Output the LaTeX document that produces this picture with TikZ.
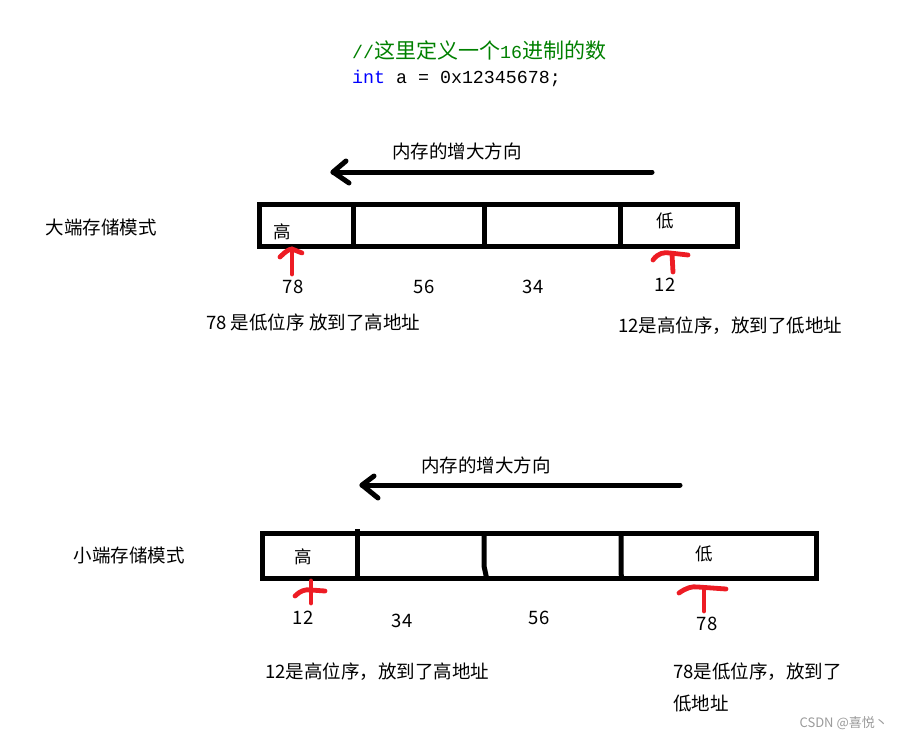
\documentclass[tikz,border=0pt]{standalone}
\usepackage{fontspec}
\setmainfont{Noto Sans CJK SC}
\newfontfamily\codefont{Liberation Mono}
\definecolor{pred}{HTML}{ED1C24}
\definecolor{cgreen}{HTML}{008000}
\definecolor{cblue}{HTML}{0000FF}
\definecolor{wmgray}{HTML}{9A9A9A}
\newcommand{\cfs}{\codefont\fontsize{18.3}{22}\selectfont}
\newcommand{\cjs}{\rmfamily\fontsize{21}{24}\selectfont}
\begin{document}
\begin{tikzpicture}[x=1pt,y=-1pt,
  lbl/.style={inner sep=0pt, font=\fontsize{18.5}{22}\selectfont},
  desc/.style={inner sep=0pt, anchor=west, font=\fontsize{18.5}{22}\selectfont},
  box/.style={draw=black, line width=5pt},
  bigarrow/.style={draw=black, line width=5pt, line cap=round, line join=round},
  redmark/.style={draw=pred, line width=4.8pt, line cap=round, line join=round}]
\useasboundingbox (0,0) rectangle (909,741);

% code lines
\node[inner sep=0pt, anchor=west] (cmt) at (352,50)
  {\color{cgreen}{\cfs //}{\cjs 这里定义一个}{\cfs 16}{\cjs 进制的数}};
\node[inner sep=0pt, anchor=west] (decl) at (352,78)
  {\cfs\textcolor{cblue}{int} a = 0x12345678;};

% ---------- big endian ----------
\node[lbl] (dirA) at (457,151) {内存的增大方向};
\coordinate (arAs) at (652,172);
\coordinate (arAt) at (333,172);
\draw[bigarrow] (arAs) -- (arAt);
\draw[bigarrow] (346,161) -- (arAt) -- (349,183);

\node[lbl] (bigname) at (101,227) {大端存储模式};
\draw[box] (259,204) rectangle (737,246);
\draw[box] (353,204) -- (353,246);
\draw[box] (484,204) -- (484,246);
\draw[box] (620,204) -- (620,246);
\node[lbl, font=\fontsize{17.5}{20}\selectfont] (hiA) at (282,232) {高};
\node[lbl, font=\fontsize{17.5}{20}\selectfont] (loA) at (665,221) {低};

\draw[redmark] (292,274) -- (292,249);
\draw[redmark] (280,257) .. controls (285,252) and (289,249) .. (292,249) -- (302,253);
\draw[redmark] (673,272) -- (672,254);
\draw[redmark] (653,260) .. controls (658,253) and (664,252) .. (670,253) -- (688,255);

\node[lbl] (nA78) at (293,287) {78};
\node[lbl] (nA56) at (424,287) {56};
\node[lbl] (nA34) at (533,287) {34};
\node[lbl] (nA12) at (665,285) {12};

\node[desc] (dA1) at (206,322) {78 是低位序 放到了高地址};
\node[desc] (dA2) at (618,326) {12是高位序，放到了低地址};

% ---------- little endian ----------
\node[lbl] (dirB) at (486,465) {内存的增大方向};
\coordinate (arBs) at (680,485);
\coordinate (arBt) at (362,485);
\draw[bigarrow] (arBs) -- (arBt);
\draw[bigarrow] (374,476) -- (arBt) -- (378,498);

\node[lbl] (smallname) at (129,555) {小端存储模式};
\draw[box] (262,533) rectangle (816,578);
\draw[box] (357,529) -- (357,578);
\draw[box] (484,535) -- (484,566) -- (487,580);
\draw[box] (621,535) -- (621,573) -- (622,580);
\node[lbl, font=\fontsize{17.5}{20}\selectfont] (hiB) at (303,557) {高};
\node[lbl, font=\fontsize{17.5}{20}\selectfont] (loB) at (704,554) {低};

\draw[redmark] (311,581) -- (311,603);
\draw[redmark] (295,596) .. controls (300,591) and (305,589) .. (311,590) -- (325,591);
\draw[redmark] (704,590) -- (704,611);
\draw[redmark] (679,593) .. controls (686,588) and (692,586) .. (698,587) -- (726,589);

\node[lbl] (nB12) at (303,618) {12};
\node[lbl] (nB34) at (402,621) {34};
\node[lbl] (nB56) at (539,618) {56};
\node[lbl] (nB78) at (707,624) {78};

\node[desc] (dB1) at (265,672) {12是高位序，放到了高地址};
\node[desc] (dB2) at (673,672) {78是低位序，放到了};
\node[desc] (dB3) at (673,703) {低地址};

\node[inner sep=0pt, anchor=east, text=wmgray, font=\fontsize{13}{15}\selectfont] (wm) at (888,723) {CSDN @喜悦丶};
\end{tikzpicture}
\end{document}
